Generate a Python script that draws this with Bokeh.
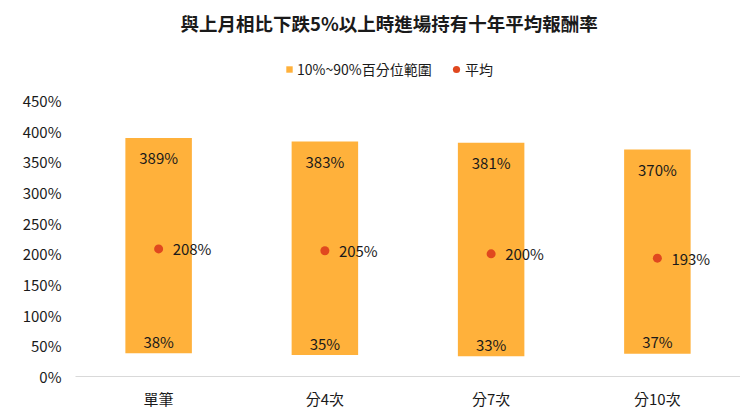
from bokeh.plotting import figure
from bokeh.models import (ColumnDataSource, Range1d, FixedTicker, PrintfTickFormatter,
                          Legend, LegendItem, Label)
from bokeh.core.properties import value
from bokeh.embed import file_html
from bokeh.resources import INLINE

categories = ["單筆", "分4次", "分7次", "分10次"]
p10 = [38, 35, 33, 37]
p90 = [389, 383, 381, 370]
mean = [208, 205, 200, 193]
y_ticks = [0, 50, 100, 150, 200, 250, 300, 350, 400, 450]
title_text = "與上月相比下跌5%以上時進場持有十年平均報酬率"
range_label = "10%~90%百分位範圍"
mean_label = "平均"

FONT = "Noto Sans CJK TC"
BAR = "#FFB13B"
DOT = "#E0481F"
TXT = "#1a1a1a"

src = ColumnDataSource(dict(
    cat=categories, lo=p10, hi=p90, mean=mean,
    lo_t=[f"{v}%" for v in p10], hi_t=[f"{v}%" for v in p90],
    mean_t=[f"{v}%" for v in mean],
))

# frame spans the whole height; 450% sits 276px above the baseline,
# the space above it holds the legend and the title
FRAME_H = 375
y_top = 450 * FRAME_H / 276

p = figure(x_range=categories, y_range=Range1d(0, y_top),
           frame_width=665, frame_height=FRAME_H,
           output_backend="svg", toolbar_location=None,
           min_border_left=75, min_border_right=0, min_border_top=1, min_border_bottom=35)

bars = p.vbar(x="cat", bottom="lo", top="hi", width=0.4, source=src,
              fill_color=BAR, line_color=None)
dots = p.scatter(x="cat", y="mean", size=9, source=src, fill_color=DOT, line_color=None)

common = dict(source=src, text_font=value(FONT), text_font_size="15px", text_color=TXT,
              text_baseline="middle")
p.text(x="cat", y="hi", text="hi_t", text_align="center", y_offset=20, **common)
p.text(x="cat", y="lo", text="lo_t", text_align="center", y_offset=-12, **common)
p.text(x="cat", y="mean", text="mean_t", text_align="left", x_offset=14, **common)

title = Label(x=105, y=354, x_units="screen", y_units="screen", text=title_text,
              text_font=FONT, text_font_size="18.5px", text_font_style="bold",
              text_color=TXT, text_align="left", text_baseline="middle")
p.add_layout(title)

leg_style = dict(orientation="horizontal", padding=0, margin=0,
                 label_text_font=FONT, label_text_font_size="14px", label_text_color=TXT,
                 background_fill_alpha=0, border_line_color=None)
legend1 = Legend(items=[LegendItem(label=range_label, renderers=[bars])],
                 location=(210, 297), glyph_width=8, glyph_height=8, label_standoff=4,
                 **leg_style)
legend2 = Legend(items=[LegendItem(label=mean_label, renderers=[dots])],
                 location=(372, 297), glyph_width=18, glyph_height=18, label_standoff=-2,
                 **leg_style)
p.add_layout(legend1, "center")
p.add_layout(legend2, "center")

p.yaxis.ticker = FixedTicker(ticks=y_ticks)
p.yaxis.formatter = PrintfTickFormatter(format="%d%%")
p.yaxis.axis_line_color = None
p.yaxis.major_tick_line_color = None
p.yaxis.minor_tick_line_color = None
p.yaxis.major_label_text_font = FONT
p.yaxis.major_label_text_font_size = "15px"
p.yaxis.major_label_text_color = TXT
p.yaxis.major_label_standoff = 8

p.xaxis.axis_line_color = "#d9d9d9"
p.xaxis.major_tick_line_color = None
p.xaxis.minor_tick_line_color = None
p.xaxis.major_label_text_font = FONT
p.xaxis.major_label_text_font_size = "15px"
p.xaxis.major_label_text_color = TXT
p.xaxis.major_label_standoff = 5

p.xgrid.grid_line_color = None
p.ygrid.grid_line_color = None
p.outline_line_color = None

open("out.html", "w").write(file_html(p, INLINE))
